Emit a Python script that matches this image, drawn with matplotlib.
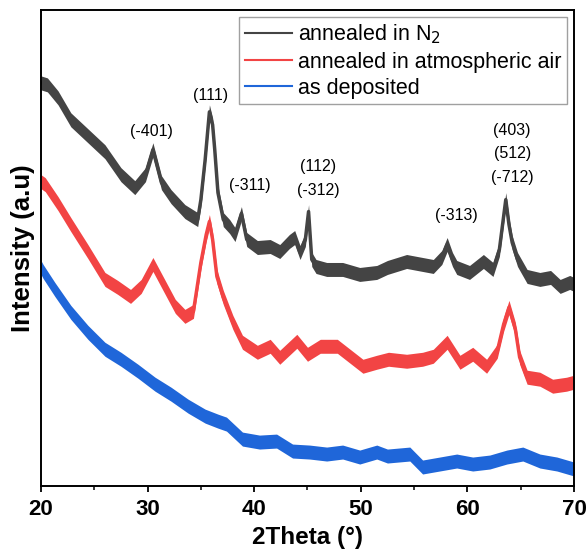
import matplotlib
matplotlib.use('Agg')
import matplotlib.pyplot as plt
import numpy as np

plt.rcParams['font.family'] = ['Liberation Sans', 'DejaVu Sans']

# 2Theta (deg) / intensity (a.u.)
tt_n2 = [20.0, 20.6, 21.6, 22.8, 24.5, 26.0, 27.5, 28.8, 29.8, 30.5, 31.3, 32.2,
         33.5, 34.7, 35.0, 35.4, 35.8, 36.1, 36.3, 36.6, 37.1, 37.7, 38.2, 38.8,
         39.3, 40.3, 41.5, 42.4, 43.3, 43.8, 44.3, 44.8, 45.1, 45.4, 45.8, 46.8,
         48.3, 49.9, 51.5, 52.5, 54.3, 55.8, 56.8, 57.6, 58.1, 58.6, 59.0, 60.2,
         61.5, 62.4, 63.0, 63.3, 63.6, 63.9, 64.2, 64.7, 65.6, 66.8, 67.8, 68.7,
         69.6, 70.0]
i_n2 = [404, 402, 389, 367, 350, 335, 312, 299, 312, 337, 304, 290,
        275, 267, 287, 327, 375, 362, 337, 294, 267, 260, 252, 273,
        247, 239, 240, 235, 245, 249, 234, 247, 275, 227, 220, 217,
        217, 212, 214, 219, 225, 222, 220, 229, 242, 227, 219, 214,
        225, 217, 237, 262, 287, 262, 244, 227, 210, 207, 209, 200,
        204, 202]

tt_air = [20.0, 20.4, 21.6, 22.8, 24.4, 26.0, 27.2, 28.4, 29.4, 30.5, 31.6, 32.6,
          33.5, 34.3, 35.0, 35.5, 35.8, 36.1, 36.5, 37.1, 38.0, 38.9, 40.3, 41.5,
          42.4, 44.0, 45.0, 46.2, 47.8, 49.0, 50.2, 51.5, 52.6, 54.3, 55.8, 56.8,
          58.1, 59.3, 60.5, 61.8, 62.8, 63.4, 63.9, 64.5, 64.9, 65.6, 66.8, 68.0,
          69.3, 70.0]
i_air = [305, 302, 283, 262, 235, 207, 199, 190, 200, 222, 200, 180,
         170, 175, 224, 252, 265, 247, 210, 189, 164, 144, 134, 140,
         129, 145, 132, 140, 140, 130, 120, 124, 127, 125, 127, 130,
         144, 124, 132, 120, 135, 162, 179, 157, 129, 109, 107, 100,
         102, 104]

tt_dep = [20.0, 20.2, 21.3, 22.8, 24.4, 26.0, 27.5, 29.1, 30.7, 32.2, 33.8, 35.4,
          36.6, 37.4, 38.9, 40.5, 42.1, 43.6, 45.2, 46.8, 48.3, 49.9, 51.5, 52.5,
          54.6, 55.8, 57.4, 59.0, 60.5, 62.1, 63.7, 65.2, 66.8, 68.4, 70.0]
i_dep = [219, 215, 197, 174, 154, 137, 127, 115, 102, 92, 80, 70,
         65, 62, 47, 44, 45, 35, 34, 32, 34, 29, 34, 30,
         32, 19, 22, 25, 22, 24, 29, 32, 25, 22, 17]

labels = ['annealed in N$_2$', 'annealed in atmospheric air', 'as deposited']
colors = ['#444444', '#f24444', '#1f66d9']

# peak labels: (text, 2theta, height of label bottom)
peaks = [('(-401)', 30.4, 348), ('(111)', 35.9, 384), ('(-311)', 39.6, 294),
         ('(112)\n(-312)', 46.0, 289), ('(-313)', 59.0, 264),
         ('(403)\n(512)\n(-712)', 64.2, 302)]

fig = plt.figure(figsize=(5.88, 5.52), dpi=100)
ax = fig.add_axes([0.0697, 0.1196, 0.9065, 0.8622])

series = [(tt_n2, i_n2), (tt_air, i_air), (tt_dep, i_dep)]
for (x, y), lab, c in zip(series, labels, colors):
    x = np.array(x)
    y = np.array(y)
    ax.fill_between(x, y - 7, y + 7, color=c, lw=0)
    ax.plot(x, y, color=c, lw=2.5, label=lab)

for txt, x, y in peaks:
    ax.text(x, y, txt, ha='center', va='bottom', fontsize=11.5, linespacing=1.7)

ax.set_xlim(20, 70)
ax.set_ylim(0, 477)
ax.set_xticks([20, 30, 40, 50, 60, 70])
ax.set_xticks([25, 35, 45, 55, 65], minor=True)
ax.set_yticks([])
ax.tick_params(axis='x', which='major', direction='out', length=4.5, width=1.3,
               labelsize=16, pad=5)
ax.tick_params(axis='x', which='minor', direction='out', length=3, width=1.1)
for lbl in ax.get_xticklabels():
    lbl.set_fontweight('bold')
for sp in ax.spines.values():
    sp.set_linewidth(1.4)

ax.set_xlabel('2Theta (°)', fontsize=17.5, fontweight='bold', labelpad=4)
ax.set_ylabel('Intensity (a.u)', fontsize=18.5, fontweight='bold', labelpad=4)

leg = ax.legend(loc='upper right', bbox_to_anchor=(0.987, 0.985), fontsize=15.5,
                frameon=True, fancybox=False, edgecolor='#888888', handlelength=2.2,
                handletextpad=0.28, borderpad=0.25, labelspacing=0.25, borderaxespad=0)
leg.get_frame().set_linewidth(1.0)
for h in leg.get_lines():
    h.set_linewidth(1.5)

fig.savefig('out.png', dpi=100)
